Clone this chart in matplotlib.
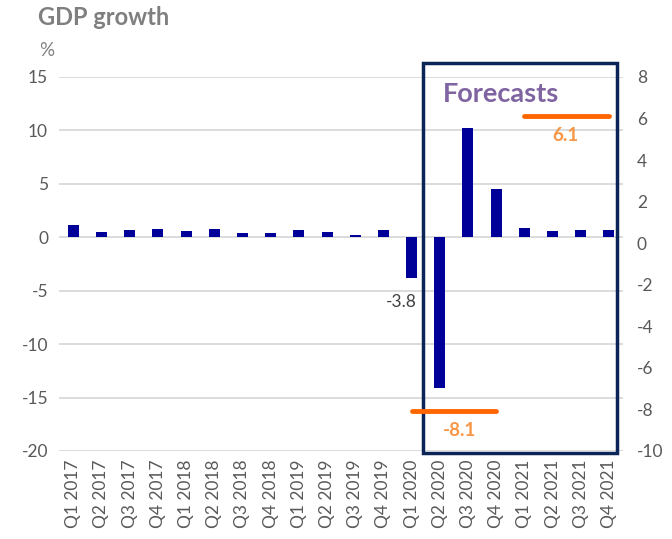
import matplotlib
matplotlib.use("Agg")
import matplotlib.pyplot as plt
from matplotlib.patches import Rectangle
from matplotlib.transforms import blended_transform_factory
import numpy as np

plt.rcParams['font.family'] = ['Lato', 'DejaVu Sans']

quarters = ["Q1 2017", "Q2 2017", "Q3 2017", "Q4 2017",
            "Q1 2018", "Q2 2018", "Q3 2018", "Q4 2018",
            "Q1 2019", "Q2 2019", "Q3 2019", "Q4 2019",
            "Q1 2020", "Q2 2020", "Q3 2020", "Q4 2020",
            "Q1 2021", "Q2 2021", "Q3 2021", "Q4 2021"]
qoq_growth = [1.15, 0.45, 0.7, 0.8, 0.6, 0.75, 0.4, 0.4, 0.72, 0.47, 0.25, 0.72,
              -3.8, -14.1, 10.2, 4.5, 0.87, 0.56, 0.66, 0.66]
annual_2020 = -8.1
annual_2021 = 6.1
annual_2020_span = ["Q1 2020", "Q4 2020"]
annual_2021_span = ["Q1 2021", "Q4 2021"]
left_ticks = [-20, -15, -10, -5, 0, 5, 10, 15]
right_ticks = [-10, -8, -6, -4, -2, 0, 2, 4, 6, 8]

gray = "#595959"
fig = plt.figure(figsize=(6.72, 5.39), dpi=100)
ax = fig.add_axes([0.0881, 0.1633, 0.839, 0.694])
x = np.arange(len(quarters))
ax.bar(x, qoq_growth, width=0.39, color="#000099", zorder=3)
ax.set_xlim(-0.5, len(quarters) - 0.5)
ax.set_ylim(-20, 15)
ax.set_yticks(left_ticks)
ax.set_yticklabels([str(t) for t in left_ticks])
ax.grid(axis="y", color="#D9D9D9", linewidth=1.3, zorder=0)
ax.set_xticks(x)
ax.set_xticklabels(quarters, rotation=90, fontsize=12.5, color=gray)
for s in ax.spines.values():
    s.set_visible(False)
ax.tick_params(axis="both", length=0, labelsize=12.5, colors=gray)
ax.tick_params(axis="x", pad=6)
ax.tick_params(axis="y", pad=8)

ax2 = ax.twinx()
ax2.set_ylim(-10, 8)
ax2.set_yticks(right_ticks)
ax2.set_yticklabels([str(t) for t in right_ticks])
for s in ax2.spines.values():
    s.set_visible(False)
ax2.tick_params(axis="y", length=0, labelsize=12.5, colors=gray, pad=10)

i0, i1 = quarters.index(annual_2020_span[0]), quarters.index(annual_2020_span[1])
ax2.plot([i0, i1], [annual_2020, annual_2020], color="#FF6600", lw=3.5,
         solid_capstyle="round", zorder=5, clip_on=False)
ax2.text(13.7, annual_2020 - 0.5, f"{annual_2020}", color="#F79646",
         fontsize=13.5, fontweight="bold", ha="center", va="top")
j0, j1 = quarters.index(annual_2021_span[0]), quarters.index(annual_2021_span[1])
ax2.plot([j0, j1], [annual_2021, annual_2021], color="#FF6600", lw=3.5,
         solid_capstyle="round", zorder=5, clip_on=False)
ax2.text(17.47, annual_2021 - 0.5, f"{annual_2021}", color="#F79646",
         fontsize=13.5, fontweight="bold", ha="center", va="top")

ax.text(11.62, -3.8 - 1.5, "-3.8", color="#404040", fontsize=12.5,
        ha="center", va="top")

tr = blended_transform_factory(ax.transData, ax.transAxes)
rect = Rectangle((12.39, -0.005), 6.9, 1.042, transform=tr, fill=False,
                 edgecolor="#0B2559", linewidth=2.5, clip_on=False, zorder=6)
ax.add_patch(rect)
ax.text(13.1, 0.955, "Forecasts", transform=tr, color="#8064A2", fontsize=19.5,
        fontweight="bold", ha="left", va="center")

fig.text(0.057, 0.968, "GDP growth", color="#7F7F7F", fontsize=17,
         fontweight="bold", ha="left", va="center")
fig.text(0.058, 0.906, "%", color="#7F7F7F", fontsize=13.5, ha="left", va="center")

fig.savefig("out.png", dpi=100)
